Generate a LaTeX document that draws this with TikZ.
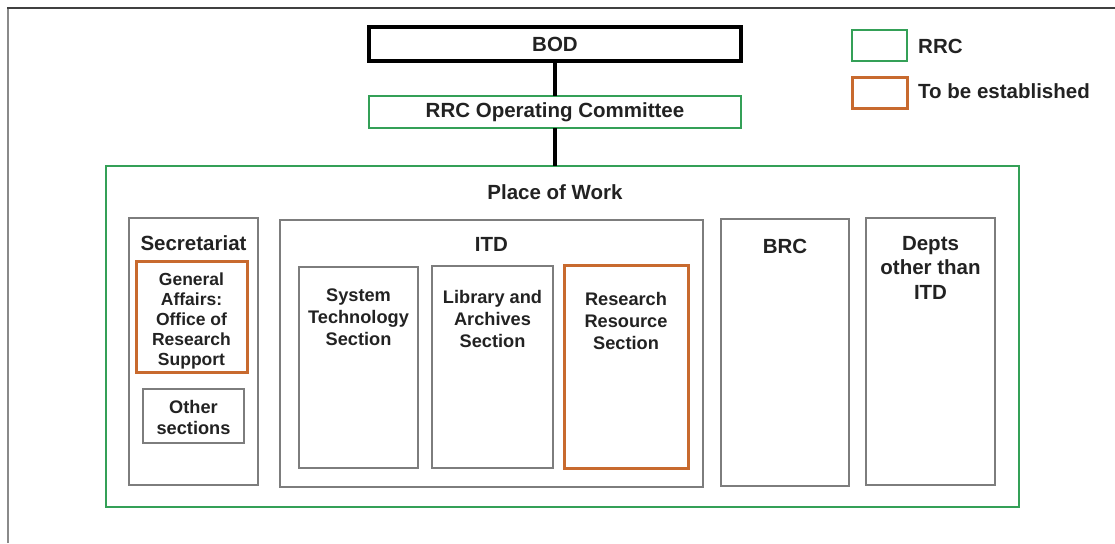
\documentclass[tikz,border=0pt]{standalone}
\usepackage{fontspec}
\setmainfont{Liberation Sans}
\definecolor{rrcgreen}{HTML}{34A057}
\definecolor{neworange}{HTML}{C86A2E}
\definecolor{boxgray}{HTML}{7D7D7D}
\definecolor{ink}{HTML}{222222}
\definecolor{edgetop}{HTML}{404040}
\definecolor{edgeleft}{HTML}{8A8A8A}
\begin{document}
\begin{tikzpicture}[x=1pt,y=-1pt,
  unit/.style={rectangle, inner sep=0pt, outer sep=0pt, anchor=north west},
  plainbox/.style={unit, draw=boxgray, line width=1.8pt},
  rrcbox/.style={unit, draw=rrcgreen, line width=2.6pt},
  newbox/.style={unit, draw=neworange, line width=3pt},
  topbox/.style={unit, draw=black, line width=3.2pt},
  head/.style={inner sep=0pt, text=ink, font=\fontsize{20.5}{24.5}\selectfont\bfseries, align=center},
  sect/.style={inner sep=0pt, text=ink, font=\fontsize{18.2}{22}\selectfont\bfseries, align=center},
  conn/.style={draw=black, line width=4.5pt}
]
\useasboundingbox (0,0) rectangle (1115,543);

% page edges
\draw[edgeleft, line width=2pt] (8,543) -- (8,8.5);
\draw[edgetop, line width=2pt] (7,8.5) -- (1115,8.5);

% board and committee
\node[topbox, minimum width=372pt, minimum height=34pt, head] (bod) at (369,27) {BOD};
\node[rrcbox, minimum width=372pt, minimum height=32pt, head] (rrcoc) at (369,96) {RRC Operating Committee};

% legend
\node[rrcbox, minimum width=55pt, minimum height=31pt] (legrrc) at (852,30) {};
\node[newbox, minimum width=55pt, minimum height=31pt] (legnew) at (852,77) {};
\node[head, anchor=base west] (legrrctext) at (918,54) {RRC};
\node[head, anchor=base west] (legnewtext) at (918,98) {To be established};

% place of work
\node[rrcbox, minimum width=913pt, minimum height=341pt] (pow) at (106,166) {};
\node[head, anchor=base] (powtext) at (bod.south |- 0,199) {Place of Work};

% secretariat
\node[plainbox, minimum width=129pt, minimum height=267pt] (sec) at (129,218) {};
\node[head, anchor=base] (sectext) at (sec.north |- 0,250.5) {Secretariat};
\node[newbox, minimum width=111pt, minimum height=111pt] (ga) at (136,261) {};
\node[sect, anchor=north, font=\fontsize{17.5}{20}\selectfont\bfseries] (gatext) at (ga.north |- 0,273)
  {General\\Affairs:\\Office of\\Research\\Support};
\node[plainbox, minimum width=101pt, minimum height=54pt] (oth) at (143,389) {};
\node[sect, anchor=north, font=\fontsize{18.2}{21}\selectfont\bfseries] (othtext) at (oth.north |- 0,400)
  {Other\\sections};

% ITD
\node[plainbox, minimum width=423pt, minimum height=267pt] (itd) at (280,220) {};
\node[head, anchor=base] (itdtext) at (itd.north |- 0,251) {ITD};
\node[plainbox, minimum width=119pt, minimum height=201pt] (sts) at (299,267) {};
\node[sect, anchor=north] (ststext) at (sts.north |- 0,289) {System\\Technology\\Section};
\node[plainbox, minimum width=121pt, minimum height=202pt] (las) at (432,266) {};
\node[sect, anchor=north] (lastext) at (las.north |- 0,290) {Library and\\Archives\\Section};
\node[newbox, minimum width=124pt, minimum height=203pt] (rrs) at (564,265) {};
\node[sect, anchor=north] (rrstext) at (rrs.north |- 0,292) {Research\\Resource\\Section};

% BRC and other departments
\node[plainbox, minimum width=128pt, minimum height=267pt] (brc) at (721,219) {};
\node[head, anchor=base] (brctext) at (brc.north |- 0,253) {BRC};
\node[plainbox, minimum width=129pt, minimum height=267pt] (dep) at (866,218) {};
\node[head, anchor=north] (deptext) at (dep.north |- 0,236) {Depts\\other than\\ITD};

% reporting lines
\draw[conn] (bod.south) -- (rrcoc.north);
\draw[conn] (rrcoc.south) -- (rrcoc.south |- pow.north);
\end{tikzpicture}
\end{document}
